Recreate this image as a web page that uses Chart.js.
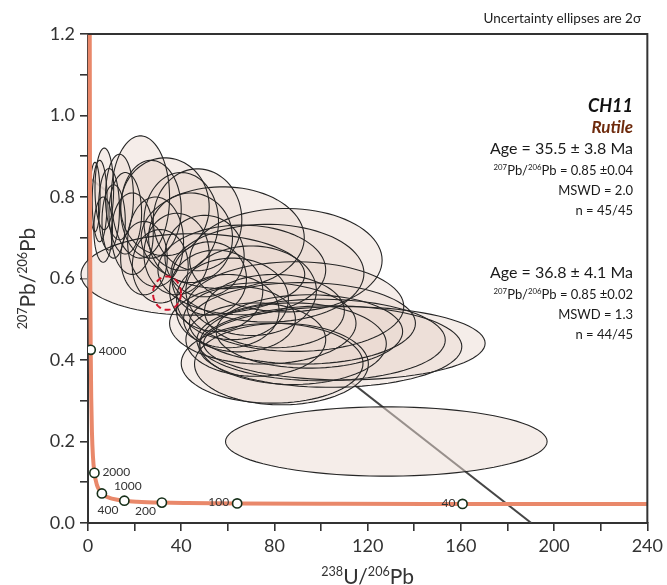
<!DOCTYPE html>
<html>
<head>
<meta charset="utf-8">
<script src="https://cdn.jsdelivr.net/npm/chart.js@4.4.1/dist/chart.umd.min.js"></script>
<style>
html, body { margin: 0; padding: 0; background: #fff; }
</style>
</head>
<body>
<canvas id="twPlot" width="667" height="585"></canvas>
<script>
// concordia curve (238U/206Pb vs 207Pb/206Pb)
var curveX = [0.75, 0.85, 0.99, 1.16, 1.39, 1.69, 2.11, 2.75, 3.82, 4.89, 5.96, 7.57, 8.72, 10.25, 15.6, 21.0, 31.7, 42.5, 64.0, 107, 160.7, 214.4, 240];
var curveY = [1.2, 0.845, 0.597, 0.425, 0.306, 0.223, 0.164, 0.123, 0.0936, 0.0801, 0.0725, 0.0658, 0.0628, 0.0599, 0.0547, 0.0523, 0.0501, 0.0491, 0.0480, 0.0472, 0.0468, 0.0466, 0.0466];

// age markers on the concordia (Ma)
var ageLabels = ['4000', '2000', '1000', '400', '200', '100', '40'];
var ageX = [1.16, 2.75, 5.96, 15.6, 31.7, 64.0, 160.7];
var ageY = [0.425, 0.123, 0.0725, 0.0547, 0.0501, 0.0480, 0.0468];

// regression (discordia) line end points
var lineX = [0, 190.2];
var lineY = [0.85, 0];

// 2 sigma ellipses: centre, half width, half height
var ellX  = [3.0, 5.0, 7.0, 9.0, 6.5, 11, 13.5, 16,
             22.5, 19, 27, 29, 33, 40, 24, 31, 44, 47, 50, 38,
             57.8, 84.9, 45, 77, 66, 89, 92, 100, 104, 110, 55, 62, 70, 60,
             75, 79, 83, 72, 88, 65, 95, 80, 128, 52];
var ellY  = [0.80, 0.79, 0.82, 0.77, 0.72, 0.74, 0.80, 0.76,
             0.80, 0.71, 0.77, 0.69, 0.776, 0.74, 0.65, 0.63, 0.70, 0.744, 0.655, 0.66,
             0.70, 0.645, 0.61, 0.613, 0.621, 0.531, 0.49, 0.449, 0.433, 0.441, 0.57, 0.55, 0.57, 0.52,
             0.49, 0.392, 0.39, 0.45, 0.44, 0.50, 0.47, 0.52, 0.20, 0.60];
var ellSX = [2.2, 3.2, 4, 4.5, 4, 5, 6, 7,
             12.5, 9, 13, 12, 19, 16, 10, 12, 18, 19, 17, 14,
             35, 41.3, 48, 41.4, 36, 46.5, 48.5, 53.3, 56.4, 60.4, 20, 24, 28, 22,
             40, 39, 37.3, 30, 40, 24, 40, 30, 69, 16];
var ellSY = [0.085, 0.10, 0.10, 0.10, 0.08, 0.09, 0.105, 0.10,
             0.15, 0.10, 0.12, 0.11, 0.12, 0.12, 0.09, 0.09, 0.11, 0.125, 0.10, 0.10,
             0.125, 0.127, 0.10, 0.12, 0.11, 0.11, 0.10, 0.10, 0.10, 0.09, 0.10, 0.10, 0.11, 0.09,
             0.10, 0.098, 0.10, 0.09, 0.10, 0.08, 0.09, 0.09, 0.085, 0.09];

// rejected analysis (dashed red)
var rejX = [33.9];
var rejY = [0.564];
var rejSX = [6];
var rejSY = [0.041];

var sampleName = 'CH11';
var mineral = 'Rutile';
var fit1 = ['Age = 35.5 \u00b1 3.8 Ma', '0.85 \u00b10.04', 'MSWD = 2.0', 'n = 45/45'];
var fit2 = ['Age = 36.8 \u00b1 4.1 Ma', '0.85 \u00b10.02', 'MSWD = 1.3', 'n = 44/45'];

var FONT = 'Lato, "Open Sans", sans-serif';
var INK = '#333333';

function ellipsePath(ctx, xs, ys, cx, cy, sx, sy) {
    ctx.beginPath();
    for (var i = 0; i <= 90; i++) {
        var a = i / 90 * Math.PI * 2;
        var px = xs.getPixelForValue(cx + sx * Math.cos(a));
        var py = ys.getPixelForValue(cy + sy * Math.sin(a));
        if (i === 0) ctx.moveTo(px, py); else ctx.lineTo(px, py);
    }
    ctx.closePath();
}

// draws text made of [string, isSuperscript] parts, y is the baseline
function richText(ctx, parts, x, y, align, size, weight) {
    var w = 0;
    weight = weight || '';
    parts.forEach(function (p) {
        ctx.font = weight + ' ' + (p[1] ? size * 0.6 : size) + 'px ' + FONT;
        w += ctx.measureText(p[0]).width;
    });
    var cur = align === 'right' ? x - w : (align === 'center' ? x - w / 2 : x);
    ctx.textAlign = 'left';
    ctx.textBaseline = 'alphabetic';
    parts.forEach(function (p) {
        ctx.font = weight + ' ' + (p[1] ? size * 0.6 : size) + 'px ' + FONT;
        ctx.fillText(p[0], cur, y - (p[1] ? size * 0.36 : 0));
        cur += ctx.measureText(p[0]).width;
    });
}

var ellipsePlugin = {
    id: 'ellipses',
    beforeDatasetDraw: function (chart, args) {
        if (args.index !== 1) return;
        var ctx = chart.ctx, xs = chart.scales.x, ys = chart.scales.y;
        ctx.save();
        for (var i = 0; i < ellX.length; i++) {
            ellipsePath(ctx, xs, ys, ellX[i], ellY[i], ellSX[i], ellSY[i]);
            ctx.fillStyle = 'rgba(236, 220, 212, 0.5)';
            ctx.fill();
        }
        ctx.strokeStyle = '#262626';
        ctx.lineWidth = 1.1;
        for (var j = 0; j < ellX.length; j++) {
            ellipsePath(ctx, xs, ys, ellX[j], ellY[j], ellSX[j], ellSY[j]);
            ctx.stroke();
        }
        ctx.strokeStyle = '#d0142c';
        ctx.lineWidth = 2;
        ctx.setLineDash([6, 4]);
        for (var k = 0; k < rejX.length; k++) {
            ellipsePath(ctx, xs, ys, rejX[k], rejY[k], rejSX[k], rejSY[k]);
            ctx.stroke();
        }
        ctx.restore();
    }
};

var labelOffset = {
    '4000': [8, 5, 'left'], '2000': [8, 3, 'left'], '1000': [12, -3, 'left'],
    '400': [-6, 13, 'right'], '200': [-6, 12, 'right'], '100': [-8, 3, 'right'], '40': [-7, 3, 'right']
};

var textPlugin = {
    id: 'annotations',
    afterDraw: function (chart) {
        var ctx = chart.ctx, a = chart.chartArea, xs = chart.scales.x, ys = chart.scales.y;
        ctx.save();
        // top and right edges of the frame
        ctx.strokeStyle = INK;
        ctx.lineWidth = 2;
        ctx.beginPath();
        ctx.moveTo(a.left, a.top);
        ctx.lineTo(a.right, a.top);
        ctx.lineTo(a.right, a.bottom);
        ctx.stroke();

        // age labels
        ctx.fillStyle = INK;
        ctx.font = '12px ' + FONT;
        ctx.textBaseline = 'alphabetic';
        for (var i = 0; i < ageLabels.length; i++) {
            var o = labelOffset[ageLabels[i]];
            ctx.textAlign = o[2];
            ctx.fillText(ageLabels[i], xs.getPixelForValue(ageX[i]) + o[0], ys.getPixelForValue(ageY[i]) + o[1]);
        }

        // axis titles
        ctx.fillStyle = INK;
        richText(ctx, [['238', true], ['U/', false], ['206', true], ['Pb', false]], (a.left + a.right) / 2, 584, 'center', 21);
        ctx.save();
        ctx.translate(35, (a.top + a.bottom) / 2);
        ctx.rotate(-Math.PI / 2);
        richText(ctx, [['207', true], ['Pb/', false], ['206', true], ['Pb', false]], 0, 0, 'center', 21);
        ctx.restore();

        // note above the frame
        ctx.fillStyle = '#222';
        richText(ctx, [['Uncertainty ellipses are 2\u03c3', false]], 641, 23, 'right', 13.5);

        // sample info
        var rx = 633;
        ctx.fillStyle = '#111';
        richText(ctx, [[sampleName, false]], rx, 112, 'right', 18, 'italic bold');
        ctx.fillStyle = '#6e2a0c';
        richText(ctx, [[mineral, false]], rx, 133, 'right', 17, 'italic bold');

        [[fit1, 154], [fit2, 278]].forEach(function (f) {
            var lines = f[0], y0 = f[1];
            ctx.fillStyle = '#1a1a1a';
            richText(ctx, [[lines[0], false]], rx, y0, 'right', 16);
            richText(ctx, [['207', true], ['Pb/', false], ['206', true], ['Pb = ' + lines[1], false]], rx, y0 + 21, 'right', 13);
            richText(ctx, [[lines[2], false]], rx, y0 + 41, 'right', 13);
            richText(ctx, [[lines[3], false]], rx, y0 + 61, 'right', 13);
        });
        ctx.restore();
    }
};

function toPoints(xs, ys) {
    return xs.map(function (v, i) { return { x: v, y: ys[i] }; });
}

var ctx = document.getElementById('twPlot').getContext('2d');
var chart = new Chart(ctx, {
    type: 'scatter',
    data: {
        datasets: [{
            label: 'ages',
            data: toPoints(ageX, ageY),
            pointRadius: 4.6,
            pointBackgroundColor: '#ffffff',
            pointBorderColor: '#17301a',
            pointBorderWidth: 1.6,
            order: 0
        }, {
            label: 'concordia',
            data: toPoints(curveX, curveY),
            showLine: true,
            borderColor: '#e9886a',
            borderWidth: 4,
            pointRadius: 0,
            cubicInterpolationMode: 'monotone',
            clip: 4,
            order: 1
        }, {
            label: 'regression',
            data: toPoints(lineX, lineY),
            showLine: true,
            borderColor: '#454545',
            borderWidth: 2,
            pointRadius: 0,
            order: 2
        }]
    },
    options: {
        responsive: false,
        animation: false,
        devicePixelRatio: 1,
        layout: { padding: { top: 34, right: 18, left: 0, bottom: 0 } },
        plugins: { legend: { display: false }, tooltip: { enabled: false } },
        scales: {
            x: {
                type: 'linear',
                min: 0,
                max: 240,
                afterFit: function (s) { s.height = 62; },
                ticks: {
                    stepSize: 20,
                    padding: 4,
                    color: INK,
                    font: { family: FONT, size: 18 },
                    maxRotation: 0,
                    callback: function (v) { return v % 40 === 0 ? String(v) : ''; }
                },
                grid: { drawOnChartArea: false, drawTicks: true, tickLength: 8, color: INK, lineWidth: 1.6 },
                border: { display: true, color: INK, width: 2 }
            },
            y: {
                type: 'linear',
                min: 0,
                max: 1.2,
                afterFit: function (s) { s.width = 88; },
                ticks: {
                    stepSize: 0.1,
                    padding: 5,
                    color: INK,
                    font: { family: FONT, size: 18 },
                    callback: function (v) {
                        var k = Math.round(v * 10);
                        return k % 2 === 0 ? (k / 10).toFixed(1) : '';
                    }
                },
                grid: { drawOnChartArea: false, drawTicks: true, tickLength: 8, color: INK, lineWidth: 1.6 },
                border: { display: true, color: INK, width: 2 }
            }
        }
    },
    plugins: [ellipsePlugin, textPlugin]
});
</script>
</body>
</html>
